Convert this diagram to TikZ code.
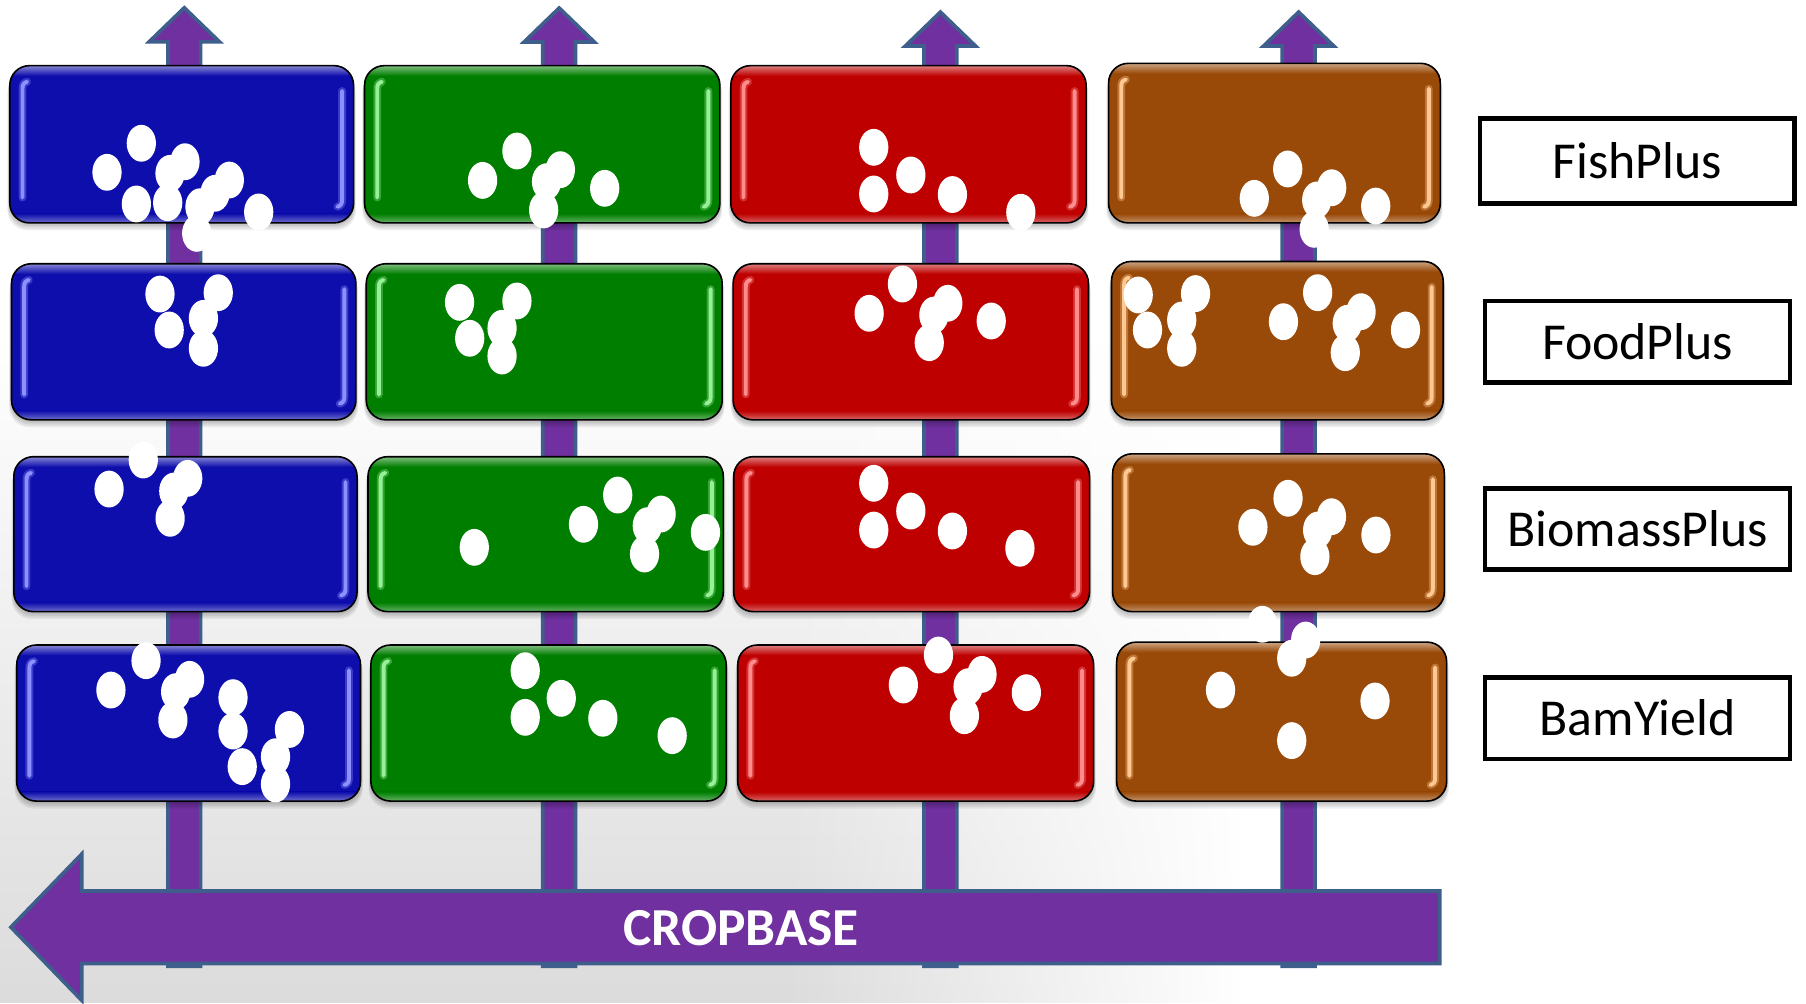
\documentclass[tikz,border=0pt]{standalone}
\usepackage{fontspec}
\setmainfont{Carlito}
\usetikzlibrary{fadings}
\definecolor{cBlue}{RGB}{14,14,172}
\definecolor{cGreen}{RGB}{0,126,0}
\definecolor{cRed}{RGB}{190,0,0}
\definecolor{cBrown}{RGB}{153,74,8}
\definecolor{hBlue}{RGB}{140,145,255}
\definecolor{hGreen}{RGB}{150,240,150}
\definecolor{hRed}{RGB}{255,140,140}
\definecolor{hBrown}{RGB}{255,200,145}
\definecolor{cPurple}{RGB}{112,48,160}
\definecolor{cEdge}{RGB}{62,94,140}
\definecolor{bgGray}{RGB}{220,220,220}
\tikzfading[name=fadeInDown, top color=transparent!100, bottom color=transparent!0]
\tikzfading[name=fadeInRight, left color=transparent!100, right color=transparent!0]
\tikzset{
  boxnode/.style={rectangle, rounded corners=0.425cm, inner sep=0pt, outer sep=0pt, draw=none},
  boxedge/.style={draw=black, line width=0.035cm, rounded corners=0.425cm},
  hl/.style={line width=0.085cm, line cap=round},
  hlglow/.style={line width=0.17cm, line cap=round, opacity=0.35},
  barrow/.style={fill=cPurple, draw=cEdge, line width=0.08cm, line join=miter},
  dot/.style={fill=white},
  lab/.style={draw=black, line width=0.1cm, inner sep=0pt, outer sep=0pt, font=\fontsize{32}{38}\selectfont},
  croptext/.style={text=white, inner sep=0pt, font=\bfseries\fontsize{33}{38}\selectfont}
}
\newcommand\gbox[7]{%
  \foreach \k in {1,...,5}{\fill[black,opacity=0.055,rounded corners=0.425cm] ({#2-0.4*\k},{#3+1.4*\k}) rectangle ({#4+0.4*\k},{#5+1.3*\k});}
  \node[boxnode, fill=#6, minimum width={(#4-#2)*0.025cm}, minimum height={(#5-#3)*0.025cm}] (#1) at ({(#2+#4)/2},{(#3+#5)/2}) {};
  \begin{scope}
    \clip[rounded corners=0.425cm] (#1.north west) rectangle (#1.south east);
    \shade[top color=#6!50!white, bottom color=#6] (#1.north west) rectangle ([yshift=-0.22cm]#1.north east);
    \shade[top color=#6, bottom color=#6!60!white] ([yshift=0.2cm]#1.south west) rectangle (#1.south east);
  \end{scope}
  \foreach \s in {hlglow,hl}{%
    \draw[\s, draw=#7] ({#2+11},{#5-22}) -- ({#2+11},{#3+20}) .. controls ({#2+11},{#3+16.5}) and ({#2+12},{#3+15}) .. ({#2+15},{#3+14});
    \draw[\s, draw=#7] ({#4-10},{#3+22}) -- ({#4-10},{#5-20}) .. controls ({#4-10},{#5-16.5}) and ({#4-11},{#5-15}) .. ({#4-14},{#5-14});
  }
  \draw[boxedge] (#1.north west) rectangle (#1.south east);
}
\newcommand\varrow[2]{%
  \draw[barrow] (#1,{#2+2.5}) -- ({#1+30.5},{#2+32}) -- ({#1+14.2},{#2+32}) -- ({#1+14.2},839) -- ({#1-14.2},839) -- ({#1-14.2},{#2+32}) -- ({#1-30.5},{#2+32}) -- cycle;}
\begin{document}
\begin{tikzpicture}[x=0.025cm, y=-0.025cm]
\useasboundingbox (0,0) rectangle (1568,871);
\fill[white] (0,0) rectangle (1568,871);
% faded photo background
\fill[bgGray, path fading=fadeInDown] (0,300) rectangle (1080,871);
\fill[white, path fading=fadeInRight] (680,300) rectangle (1081,871);
% vertical arrows
\varrow{160}{4.3}
\varrow{485.5}{4.5}
\varrow{816.5}{8}
\varrow{1127.5}{8}
% CROPBASE arrow
\draw[barrow] (1250,773.5) -- (71,773.5) -- (71,741.5) -- (9.5,805) -- (71,868.5) -- (71,836.5) -- (1250,836.5) -- cycle;
\node[croptext] (crop) at (643.5,806) {CROPBASE};
% boxes
\gbox{b11}{8.5}{57}{307}{193.5}{cBlue}{hBlue}
\gbox{b12}{316.5}{57}{625}{193.5}{cGreen}{hGreen}
\gbox{b13}{634.5}{57}{943}{193.5}{cRed}{hRed}
\gbox{b14}{962.5}{55}{1250.5}{193.5}{cBrown}{hBrown}
\gbox{b21}{10}{229}{309}{364.5}{cBlue}{hBlue}
\gbox{b22}{318}{229}{627}{364.5}{cGreen}{hGreen}
\gbox{b23}{636.5}{229}{945}{364.5}{cRed}{hRed}
\gbox{b24}{965}{227}{1253}{364.5}{cBrown}{hBrown}
\gbox{b31}{12}{396.5}{310}{531}{cBlue}{hBlue}
\gbox{b32}{319.5}{396.5}{628}{531}{cGreen}{hGreen}
\gbox{b33}{637}{396.5}{946}{531}{cRed}{hRed}
\gbox{b34}{966}{394}{1254}{531}{cBrown}{hBrown}
\gbox{b41}{14.5}{560}{313}{695.5}{cBlue}{hBlue}
\gbox{b42}{322}{560}{630.5}{695.5}{cGreen}{hGreen}
\gbox{b43}{640.5}{560}{949.5}{695.5}{cRed}{hRed}
\gbox{b44}{969.5}{557.5}{1256}{695.5}{cBrown}{hBrown}
% dots
\foreach \x/\y in {
 92.9/149.6, 122.7/124.4, 118.4/177.1, 160.6/140.4, 147.6/150.5, 145.6/176, 199.1/156.3, 186.7/167.8, 173.6/179.5, 170.8/202.6, 224.6/184,
 419/156.6, 448.8/131.1, 486.5/147.3, 474.5/157.7, 472/182.3, 525/163.5,
 758.6/127.9, 790.8/151.9, 758.6/168.4, 826.9/168.9, 886.3/184.3,
 1089/172.2, 1118/146.7, 1156.2/163, 1143.2/173.6, 1141/199.1, 1194.4/178.9,
 138.9/255.3, 189.5/254.1, 146.9/286.5, 176.6/276.4, 176.6/302.4,
 399/262.5, 448.8/261.3, 407.8/293.7, 435.9/285, 435.9/309.1,
 783.5/246.6, 754.6/272, 822.9/263.3, 810.8/273.5, 806.8/297.5, 860.6/278.7,
 988.2/256.1, 1038/254.9, 996.3/286.5, 1026/277.8, 1026/302.4, 1114.3/279.3, 1144/254.1, 1181.7/270.6, 1169.7/280.7, 1168/306.2, 1220.3/286.5,
 124.4/399.4, 94.7/424.6, 163/415.3, 150.9/426.3, 147.7/450,
 411.8/475.2, 506.6/455.2, 536.3/429.8, 574/446.3, 562/456.4, 559.6/481, 612.5/462.2,
 758.6/419.6, 790.8/443.7, 758.6/460.2, 826.9/461, 885.5/476,
 1087.8/457.8, 1118.3/432.6, 1156/448.6, 1144/460.2, 1141.6/483.3, 1194.6/464.5,
 1096/542,
 126.8/573.6, 96.3/599.1, 164.6/589.8, 152.5/600.5, 150.1/625.1, 202.3/605.7, 202.3/634.7, 251.3/633.3, 210.3/665.6, 239.2/657, 239.2/680.7,
 456/582.3, 487.3/606.3, 456/622.8, 523.4/623.6, 583.6/638.7,
 814.8/568.7, 784.3/594.7, 852.6/585.5, 840.5/596.2, 837.3/621.4, 891.1/601.4,
 1133.6/555.7, 1121.5/571.5, 1059.7/599.1, 1193.8/608.6, 1121.5/643}
 {\fill[dot] (\x,\y) ellipse [x radius=12.7, y radius=16];}
% labels
\node[lab, minimum width={273*0.025cm}, minimum height={74*0.025cm}] (lFish) at (1421.5,139.8) {FishPlus};
\node[lab, minimum width={264.7*0.025cm}, minimum height={70.7*0.025cm}] (lFood) at (1421.8,296.8) {FoodPlus};
\node[lab, minimum width={264.7*0.025cm}, minimum height={70.7*0.025cm}] (lBio) at (1421.8,459.2) {BiomassPlus};
\node[lab, minimum width={264.7*0.025cm}, minimum height={70.7*0.025cm}] (lBam) at (1421.8,623.5) {BamYield};
\end{tikzpicture}
\end{document}
